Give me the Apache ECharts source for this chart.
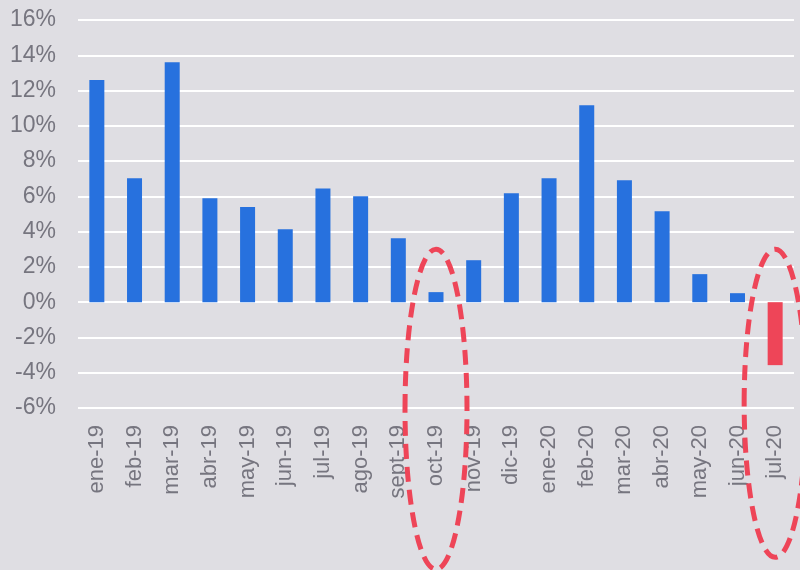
<!DOCTYPE html>
<html>
<head>
<meta charset="utf-8">
<script src="https://cdn.jsdelivr.net/npm/echarts@6/dist/echarts.min.js"></script>
<style>
	html, body { margin: 0; padding: 0; background: #dfdee3; }
	#chart { width: 800px; height: 570px; }
</style>
</head>
<body>
<div id="chart"></div>
<script>
// monthly change, %
const months = ['ene-19', 'feb-19', 'mar-19', 'abr-19', 'may-19', 'jun-19', 'jul-19', 'ago-19', 'sept-19', 'oct-19',
	'nov-19', 'dic-19', 'ene-20', 'feb-20', 'mar-20', 'abr-20', 'may-20', 'jun-20', 'jul-20'];
const values = [12.6, 7.03, 13.6, 5.9, 5.4, 4.14, 6.45, 6.0, 3.63, 0.57,
	2.38, 6.18, 7.03, 11.17, 6.92, 5.16, 1.59, 0.51, -3.57];
const circled = ['oct-19', 'jul-20'];

const blue = '#2771de';
const red = '#ee4558';
const textColor = '#76757f';

const chart = echarts.init(document.getElementById('chart'), null, { renderer: 'canvas' });

const option = {
	animation: false,
	backgroundColor: '#dfdee3',
	grid: {
		left: 78,
		right: 6,
		top: 20,
		bottom: 162
	},
	xAxis: {
		type: 'category',
		data: months,
		axisLine: { show: false },
		axisTick: { show: false },
		axisLabel: {
			rotate: 90,
			interval: 0,
			margin: 17,
			color: textColor,
			fontSize: 22,
			fontFamily: 'Liberation Sans'
		}
	},
	yAxis: {
		type: 'value',
		min: -6,
		max: 16,
		interval: 2,
		axisLine: { show: false },
		axisTick: { show: false },
		axisLabel: {
			formatter: '{value}%',
			margin: 22,
			color: textColor,
			fontSize: 23,
			fontFamily: 'Liberation Sans'
		},
		splitLine: { lineStyle: { color: '#ffffff', width: 2 } }
	},
	series: [{
		type: 'bar',
		barWidth: 15,
		data: values.map(v => ({
			value: v,
			itemStyle: { color: v < 0 ? red : blue }
		}))
	}]
};

chart.setOption(option);

// dashed ellipses round the circled months
const top0 = chart.convertToPixel({ yAxisIndex: 0 }, 3);
chart.setOption({
	graphic: circled.map((m, i) => {
		const cx = chart.convertToPixel({ xAxisIndex: 0 }, m);
		const ry = i === 0 ? 160 : 154;
		return {
			type: 'ellipse',
			shape: { cx: cx, cy: top0 + ry, rx: 31, ry: ry },
			style: { fill: null, stroke: red, lineWidth: 5, lineDash: [15, 8] },
			z: 100
		};
	})
});
</script>
</body>
</html>
